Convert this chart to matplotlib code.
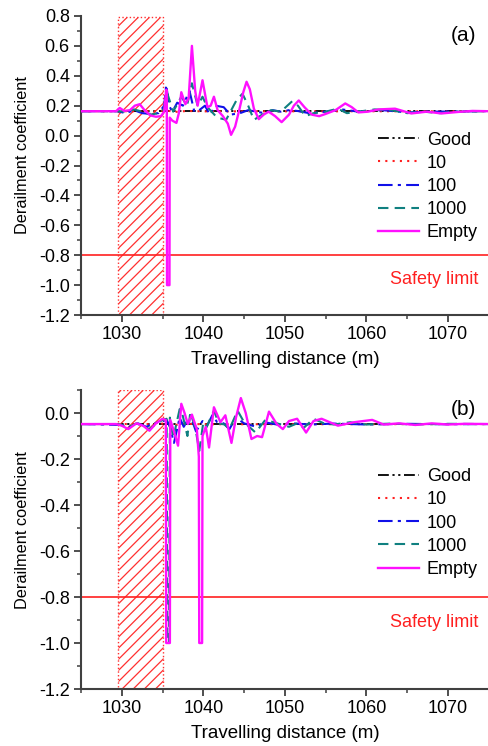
import matplotlib
matplotlib.use("Agg")
import matplotlib.pyplot as plt
from matplotlib.patches import Rectangle
from matplotlib.ticker import MultipleLocator, FormatStrFormatter

plt.rcParams['font.family'] = ['Liberation Sans', 'DejaVu Sans']
plt.rcParams['axes.unicode_minus'] = False
plt.rcParams['hatch.linewidth'] = 0.9

labels = ["Good", "10", "100", "1000", "Empty"]

# ---------------- panel (a) ----------------
x_a_good = [1025, 1075]
y_a_good = [0.163, 0.163]
x_a_10 = [1025, 1034, 1035.5, 1036.5, 1038, 1040, 1075]
y_a_10 = [0.163, 0.163, 0.168, 0.158, 0.165, 0.162, 0.163]
x_a_100 = [1025, 1029.5, 1030.5, 1031.5, 1032.5, 1033.5, 1034.5, 1035.2, 1035.45, 1035.8, 1036.2, 1036.8,
           1037.5, 1038.3, 1038.9, 1039.5, 1040.2, 1040.8, 1041.5, 1042.5, 1043.3, 1044.5, 1045.5, 1046.5,
           1047.5, 1048.5, 1049.5, 1050.5, 1051.5, 1053, 1055, 1057, 1059, 1062, 1065, 1068, 1075]
y_a_100 = [0.163, 0.163, 0.15, 0.17, 0.15, 0.145, 0.15, 0.2, 0.34, 0.2, 0.16, 0.22,
           0.2, 0.30, 0.16, 0.17, 0.2, 0.14, 0.2, 0.19, 0.14, 0.15, 0.17, 0.16,
           0.15, 0.17, 0.16, 0.17, 0.165, 0.15, 0.16, 0.175, 0.16, 0.17, 0.155, 0.16, 0.163]
x_a_1000 = [1025, 1029.5, 1030.5, 1031.5, 1032.5, 1033.5, 1034.5, 1035.2, 1035.6, 1036.3, 1037.3, 1038.0,
            1038.6, 1039.3, 1039.9, 1040.5, 1041.7, 1042.8, 1044.1, 1044.8, 1045.5, 1046.2, 1047.2, 1048.3,
            1049.5, 1050.9, 1051.6, 1052.5, 1053.5, 1055, 1056.5, 1057.6, 1059, 1061, 1063, 1065, 1067,
            1069, 1071, 1075]
y_a_1000 = [0.163, 0.163, 0.16, 0.175, 0.16, 0.14, 0.15, 0.18, 0.28, 0.16, 0.26, 0.2,
            0.35, 0.2, 0.26, 0.19, 0.12, 0.106, 0.24, 0.28, 0.2, 0.105, 0.14, 0.17,
            0.16, 0.23, 0.2, 0.13, 0.15, 0.16, 0.18, 0.15, 0.16, 0.175, 0.17, 0.15, 0.16,
            0.15, 0.16, 0.163]
x_a_empty = [1025, 1029.3, 1029.75, 1030.3, 1031.0, 1031.6, 1032.2, 1032.8, 1033.5, 1034.2, 1034.8, 1035.2,
             1035.45, 1035.52, 1035.55, 1035.85, 1035.88, 1036.2, 1036.7, 1037.0, 1037.3, 1037.8, 1038.2,
             1038.6, 1039.0, 1039.3, 1039.9, 1040.5, 1040.9, 1041.3, 1041.75, 1042.4, 1043.0, 1043.4,
             1043.9, 1044.4, 1044.9, 1045.3, 1045.7, 1046.2, 1046.8, 1047.4, 1048.0, 1048.8, 1049.6,
             1050.5, 1051.1, 1051.7, 1052.4, 1053.3, 1054.2, 1055.0, 1056.2, 1057.4, 1058.2, 1059.0,
             1060.2, 1061.5, 1063.5, 1065.5, 1067.4, 1069.2, 1071.2, 1073, 1075]
y_a_empty = [0.163, 0.163, 0.185, 0.165, 0.17, 0.2, 0.21, 0.17, 0.135, 0.126, 0.13, 0.16,
             0.307, 0.30, -1.0, -1.0, 0.12, 0.10, 0.085, 0.15, 0.29, 0.21, 0.25,
             0.60, 0.30, 0.20, 0.37, 0.19, 0.20, 0.26, 0.17, 0.13, 0.08, 0.005,
             0.06, 0.17, 0.29, 0.36, 0.31, 0.18, 0.11, 0.14, 0.16, 0.13, 0.09,
             0.14, 0.20, 0.235, 0.19, 0.14, 0.13, 0.145, 0.17, 0.215, 0.19, 0.155,
             0.16, 0.175, 0.18, 0.148, 0.16, 0.148, 0.158, 0.165, 0.163]

# ---------------- panel (b) ----------------
x_b_good = [1025, 1075]
y_b_good = [-0.048, -0.048]
x_b_10 = [1025, 1034, 1035.5, 1036.5, 1038, 1040, 1075]
y_b_10 = [-0.048, -0.048, -0.045, -0.052, -0.047, -0.049, -0.048]
x_b_100 = [1025, 1030, 1031, 1032, 1033, 1034, 1035, 1035.5, 1035.9, 1036.4, 1037.1, 1037.6, 1038.4,
           1039.1, 1039.9, 1040.4, 1041.1, 1041.7, 1042.5, 1043.2, 1044.0, 1045.0, 1046.5, 1047.5,
           1049, 1051, 1053, 1056, 1060, 1065, 1070, 1075]
y_b_100 = [-0.048, -0.052, -0.06, -0.045, -0.06, -0.045, -0.035, -0.03, -0.06, -0.13, -0.02, -0.06, -0.01,
           -0.08, -0.035, -0.06, -0.01, -0.04, -0.045, -0.07, -0.02, -0.045, -0.06, -0.04,
           -0.05, -0.045, -0.05, -0.046, -0.05, -0.047, -0.049, -0.048]
x_b_1000 = [1025, 1029.5, 1030.8, 1031.8, 1033.4, 1034.3, 1035.0, 1035.5, 1035.6, 1035.8, 1035.9, 1036.3,
            1037.1, 1037.4, 1038.05, 1038.4, 1039.0, 1039.5, 1040.0, 1040.4, 1041.3, 1041.9, 1042.6,
            1043.2, 1044.2, 1045.0, 1046.4, 1047.6, 1048.6, 1049.5, 1050.5, 1051.5, 1052.3, 1053.5,
            1054.8, 1056, 1058, 1060, 1063, 1066, 1070, 1075]
y_b_1000 = [-0.048, -0.048, -0.062, -0.045, -0.07, -0.045, -0.03, -0.025, -1.0, -1.0, -0.02, -0.11,
            0.017, 0.0, -0.10, 0.0, -0.06, -0.165, -0.04, -0.06, 0.01, -0.045, -0.05,
            -0.07, 0.01, -0.04, -0.085, -0.03, -0.04, -0.05, -0.06, -0.045, -0.065, -0.025,
            -0.045, -0.05, -0.04, -0.05, -0.046, -0.05, -0.047, -0.048]
x_b_empty = [1025, 1029.3, 1030.0, 1030.8, 1031.8, 1032.6, 1033.4, 1034.2, 1034.96, 1035.4, 1035.45,
             1035.9, 1035.95, 1036.4, 1036.9, 1037.3, 1037.7, 1038.1, 1038.6, 1039.2, 1039.45, 1039.5,
             1039.85, 1039.9, 1040.3, 1040.7, 1041.3, 1042.1, 1042.7, 1043.45, 1044.0, 1044.6, 1045.2,
             1045.9, 1046.6, 1047.2, 1048.05, 1049.0, 1049.75, 1050.5, 1051.5, 1052.6, 1053.5, 1054.5,
             1055.5, 1056.5, 1058.5, 1060.7, 1062.1, 1064, 1066, 1068, 1070, 1072, 1075]
y_b_empty = [-0.048, -0.048, -0.055, -0.07, -0.045, -0.055, -0.077, -0.045, -0.026, -0.03, -1.0,
             -1.0, -0.03, -0.08, -0.142, 0.04, 0.0, -0.048, -0.007, -0.07, -0.19, -1.0,
             -1.0, -0.10, -0.06, -0.15, 0.025, -0.04, -0.01, -0.13, -0.02, 0.065, 0.0,
             -0.113, -0.10, -0.105, 0.006, -0.048, -0.07, -0.035, -0.025, -0.085, -0.035, -0.025,
             -0.04, -0.055, -0.04, -0.03, -0.05, -0.045, -0.052, -0.045, -0.05, -0.047, -0.048]

safety_limit = -0.8
zone_start, zone_end = 1029.5, 1035.0

styles = [
    dict(color='black', linestyle=(0, (6, 2, 1.2, 2, 1.2, 2)), lw=1.3),
    dict(color='#ff2020', linestyle=(0, (1, 2.5)), lw=1.5),
    dict(color='#1010e8', linestyle=(0, (7, 2.5, 1.5, 2.5)), lw=1.5),
    dict(color='#108080', linestyle=(0, (5, 3)), lw=1.5),
    dict(color='#ff10ff', linestyle='-', lw=1.7),
]

panels = [
    dict(rect=[0.1656, 0.5777, 0.834, 0.4009], ylim=(-1.2, 0.8), tag='(a)', zone_top=0.79,
         data=[(x_a_good, y_a_good), (x_a_10, y_a_10), (x_a_100, y_a_100),
               (x_a_1000, y_a_1000), (x_a_empty, y_a_empty)],
         leg_y=0.43, safety_y=-0.965, ylab_y=0.535),
    dict(rect=[0.1656, 0.0764, 0.834, 0.4008], ylim=(-1.2, 0.1), tag='(b)', zone_top=0.1,
         data=[(x_b_good, y_b_good), (x_b_10, y_b_10), (x_b_100, y_b_100),
               (x_b_1000, y_b_1000), (x_b_empty, y_b_empty)],
         leg_y=0.555, safety_y=-0.91, ylab_y=0.53),
]

fig = plt.figure(figsize=(4.89, 7.46), dpi=100)
spine_c = '#404040'
for p in panels:
    ax = fig.add_axes(p['rect'])
    ax.set_xlim(1025, 1075)
    ax.set_ylim(*p['ylim'])
    ax.add_patch(Rectangle((zone_start, p['ylim'][0]), zone_end - zone_start,
                           p['zone_top'] - p['ylim'][0], fill=False, edgecolor='#ff3030',
                           hatch='///', linestyle=':', lw=1.0, zorder=1))
    ax.axhline(safety_limit, color='#ff2020', lw=1.2, zorder=2)
    handles = []
    for (xs, ys), st, lab in zip(p['data'], styles, labels):
        h, = ax.plot(xs, ys, label=lab, zorder=3, **st)
        handles.append(h)
    ax.legend(handles=handles, loc='center left', bbox_to_anchor=(0.728, p['leg_y']),
              frameon=False, fontsize=13, handlelength=2.3, handletextpad=0.4,
              labelspacing=0.34, borderpad=0, borderaxespad=0)
    ax.text(1068.3, p['safety_y'], 'Safety limit', color='#ff2020', fontsize=13,
            ha='center', va='center')
    ax.text(0.97, 0.935, p['tag'], transform=ax.transAxes, fontsize=15, ha='right', va='center')
    ax.xaxis.set_minor_locator(MultipleLocator(5))
    ax.yaxis.set_major_locator(MultipleLocator(0.2))
    ax.yaxis.set_minor_locator(MultipleLocator(0.1))
    ax.set_xticks([1030, 1040, 1050, 1060, 1070])
    ax.yaxis.set_major_formatter(FormatStrFormatter('%.1f'))
    for s in ['top', 'right']:
        ax.spines[s].set_visible(False)
    for s in ['left', 'bottom']:
        ax.spines[s].set_color(spine_c)
        ax.spines[s].set_linewidth(1.5)
    ax.tick_params(which='major', direction='out', length=5, width=1.3, color=spine_c,
                   labelsize=13, pad=3)
    ax.tick_params(which='minor', direction='out', length=3, width=1.1, color=spine_c)
    ax.set_xlabel('Travelling distance (m)', fontsize=13.5)
    ax.set_ylabel('Derailment coefficient', fontsize=11.8)
    ax.yaxis.set_label_coords(-0.125, p['ylab_y'])
    ax.xaxis.set_label_coords(0.5, -0.12)

fig.savefig('out.png', dpi=100)
